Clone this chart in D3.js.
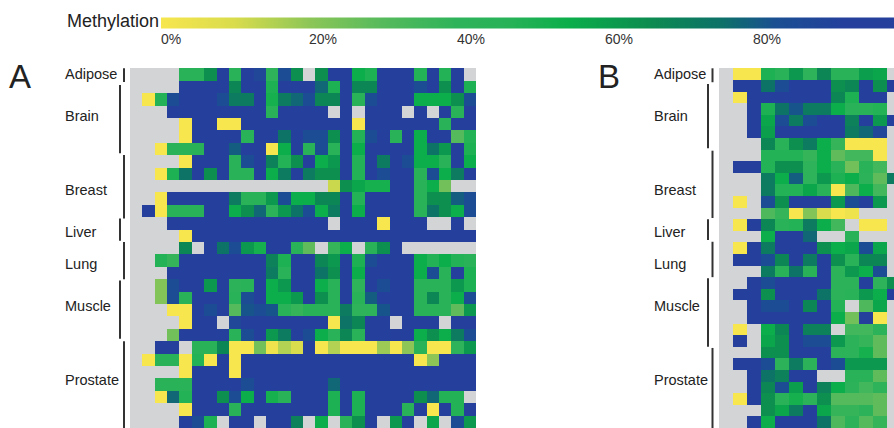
<!DOCTYPE html>
<html>
<head>
<meta charset="utf-8">
<script src="https://cdn.jsdelivr.net/npm/d3@7/dist/d3.min.js"></script>
<style>
  html, body { margin: 0; padding: 0; background: #fff; overflow: hidden; }
  text { font-family: "Liberation Sans", Arial, sans-serif; fill: #222; }
</style>
</head>
<body>
<div id="chart"></div>
<script>
// shorthand for the cells, _ = no data (grey)
const _ = null, Y = 0, B = 95;

const tissues = ["Adipose", "Brain", "Breast", "Liver", "Lung", "Muscle", "Prostate"];
const legendTicks = [0, 20, 40, 60, 80];

// where each tissue bracket starts and stops, in rows of its panel
const tissueRowsA = [[0, 1.1], [1.35, 6.85], [7, 12.1], [12.1, 13.9], [14, 17], [17.1, 21.8], [22, 29]];
const tissueRowsB = [[0, 1.2], [1.35, 6.9], [7.1, 12.9], [13, 14.8], [14.95, 18], [18.1, 24], [24.1, 31]];

const panelA = [
  [_,_,_,_,45,45,65,B,45,B,88,40,85,65,_,65,B,B,55,50,B,B,B,48,B,48,B,_],
  [_,_,_,_,B,B,B,B,68,B,B,50,B,B,B,78,50,B,68,68,B,B,B,85,B,65,B,50],
  [_,Y,48,85,B,B,B,85,72,72,B,52,72,78,85,68,68,B,45,85,B,B,B,55,55,55,65,85],
  [_,_,_,B,B,B,B,B,B,B,B,45,B,B,B,B,_,B,_,B,B,B,_,B,_,B,45,B],
  [_,_,_,_,Y,B,B,Y,Y,B,B,B,B,B,B,B,B,B,Y,B,B,B,B,B,B,45,B,B],
  [_,_,_,_,Y,B,B,B,B,45,B,B,75,B,85,85,65,B,48,85,B,45,B,55,B,B,30,48],
  [_,_,Y,45,45,45,B,B,80,B,B,Y,55,B,45,85,45,B,55,B,B,B,B,55,75,62,B,50],
  [_,_,_,_,Y,B,B,B,45,85,B,70,48,65,B,55,62,B,48,B,72,B,85,55,55,45,B,55],
  [_,_,Y,50,75,B,65,B,45,45,B,55,72,B,72,65,65,B,48,B,85,B,B,45,85,55,72,B],
  [_,_,_,_,_,_,_,_,_,_,_,_,_,_,_,_,12,65,58,52,52,B,B,45,55,25,_,_],
  [_,_,Y,B,B,B,B,B,72,45,45,62,85,55,55,68,68,B,48,B,B,B,B,45,65,65,80,85],
  [_,B,Y,45,45,45,B,B,55,65,78,42,62,75,85,55,72,B,55,B,B,B,B,45,75,65,55,85],
  [_,_,_,B,B,B,B,B,B,B,B,B,B,B,B,B,_,B,B,B,Y,B,B,B,_,_,B,_],
  [_,_,_,_,Y,B,B,B,B,B,B,B,B,B,B,B,B,B,B,B,B,B,B,B,B,B,B,B],
  [_,_,_,_,68,_,B,75,85,62,52,B,B,45,28,_,38,55,_,45,65,B,_,_,_,_,_,_],
  [_,_,48,38,B,B,B,B,B,B,B,70,50,B,B,68,62,B,50,85,B,B,B,55,48,55,48,45],
  [_,_,_,B,B,B,B,B,B,B,B,72,45,B,B,75,65,B,55,B,B,B,B,55,85,45,B,50],
  [_,_,22,85,B,B,62,B,42,45,B,55,62,B,B,55,45,B,40,B,85,B,B,45,45,45,62,50],
  [_,_,22,85,45,B,B,B,45,85,B,55,55,62,B,65,45,B,45,80,B,B,B,45,68,45,55,85],
  [_,_,_,Y,Y,B,85,B,30,82,85,82,45,38,45,45,45,72,40,40,82,B,B,45,45,45,28,62],
  [_,_,_,_,Y,B,B,_,88,B,B,B,B,B,B,B,Y,75,68,B,B,_,B,B,B,_,B,B],
  [_,_,_,25,B,B,B,B,45,85,B,62,72,B,85,55,45,68,45,B,B,B,B,55,65,55,72,85],
  [_,_,B,B,_,45,45,68,Y,Y,25,3,15,10,B,Y,15,Y,Y,Y,18,Y,20,45,Y,Y,40,62],
  [_,Y,45,45,Y,48,Y,B,Y,B,B,B,B,B,B,B,B,B,B,B,B,B,B,Y,20,B,B,B],
  [_,_,_,_,Y,B,B,B,Y,B,B,B,B,B,B,B,B,B,B,B,B,B,B,B,B,B,B,B],
  [_,_,45,45,45,B,B,B,B,85,B,B,B,B,B,B,78,B,B,B,B,B,B,B,B,B,B,B],
  [_,_,Y,78,48,B,B,65,85,55,B,52,45,B,B,B,50,B,50,B,B,B,B,65,78,48,48,_],
  [_,_,_,_,Y,B,B,B,45,B,B,B,B,B,B,B,50,B,50,B,B,B,45,B,Y,B,48,B],
  [_,_,_,_,B,85,50,_,B,B,_,B,B,70,_,55,_,45,65,B,_,62,B,_,58,_,85,62]
];

const panelB = [
  [_,Y,Y,50,45,62,40,68,45,45,60,58,_],
  [_,B,B,75,85,B,B,B,65,68,B,65,B],
  [_,Y,B,B,B,B,B,B,68,50,B,B,_],
  [_,_,B,50,75,82,72,72,55,45,45,48,_],
  [_,_,B,58,85,72,85,B,B,70,B,62,B],
  [_,_,B,60,B,B,B,B,B,72,78,88,_],
  [_,_,_,68,45,65,72,55,38,Y,Y,Y,_],
  [_,_,_,48,48,48,38,55,28,35,35,Y,_],
  [_,B,B,48,65,65,40,55,45,25,45,35,_],
  [_,_,_,72,55,80,40,62,50,55,42,28,72],
  [_,_,_,72,48,48,58,45,Y,32,55,35,_],
  [_,Y,_,85,65,B,B,B,62,85,B,62,_],
  [_,_,_,32,38,Y,22,10,Y,3,_,_,_],
  [_,Y,B,68,45,48,72,55,35,_,Y,Y,_],
  [_,_,_,55,B,B,78,_,_,45,_,_,_],
  [_,Y,B,72,B,B,B,65,55,58,85,58,_],
  [_,B,B,85,68,B,72,B,65,45,68,68,_],
  [_,_,_,72,45,75,45,B,42,62,55,85,_],
  [_,_,B,85,B,B,B,B,42,42,B,40,65],
  [_,B,B,65,B,B,B,75,42,45,62,55,B],
  [_,_,B,85,85,B,68,B,48,_,32,58,_],
  [_,_,B,B,B,B,B,B,55,25,B,Y,_],
  [_,Y,_,55,68,B,70,70,_,35,35,42,_],
  [_,B,_,58,65,B,85,85,62,42,38,28,_],
  [_,_,_,65,65,B,B,B,42,42,52,28,_],
  [_,B,B,85,42,72,42,B,85,62,62,62,_],
  [_,_,B,75,70,B,B,_,_,45,45,28,_],
  [_,_,B,68,85,60,B,70,55,42,35,40,_],
  [_,Y,B,65,45,52,42,65,30,30,30,28,_],
  [_,_,_,65,58,72,B,58,38,38,42,28,_],
  [_,_,B,55,B,B,B,75,32,42,30,38,_]
];

var width = 894, height = 428;
var gridTop = 68.3, gridBottom = 428;
var labelY = [74, 116, 190, 232, 264, 306, 380];

var color = d3.scaleLinear()
    .domain([0, 10, 20, 30, 40, 47, 55, 66, 76, 83, 92])
    .range(["#f7e64e", "#d9dc4c", "#8dc657", "#55ba5c", "#2eb35a", "#28b258", "#0bae4a", "#0c8c50", "#0d7069", "#1a4f92", "#24409c"])
    .clamp(true);

var svg = d3.select("#chart")
  .append("svg")
    .attr("width", width)
    .attr("height", height);

// colour legend
var xLegend = d3.scaleLinear().domain([0, 100]).range([161, 901]);
var defs = svg.append("defs");
var grad = defs.append("linearGradient").attr("id", "legendGrad");
color.domain().forEach(function(v) {
  grad.append("stop")
    .attr("offset", v + "%")
    .attr("stop-color", color(v));
});
grad.append("stop").attr("offset", "100%").attr("stop-color", color(100));

svg.append("rect")
    .attr("x", xLegend(0))
    .attr("y", 17.5)
    .attr("width", xLegend(100) - xLegend(0))
    .attr("height", 11)
    .attr("fill", "url(#legendGrad)");

svg.append("text")
    .attr("x", 159)
    .attr("y", 27)
    .attr("text-anchor", "end")
    .style("font-size", "18px")
    .text("Methylation");

svg.selectAll(".legend-tick")
  .data(legendTicks)
  .enter()
  .append("text")
    .attr("class", "legend-tick")
    .attr("x", function(d) { return xLegend(d); })
    .attr("y", 44)
    .style("font-size", "14px")
    .style("fill", "#333")
    .text(function(d) { return d + "%"; });

function drawPanel(letter, letterX, rows, tissueRows, left, cellW, labelX, barNear, barFar) {
  var nCols = rows[0].length;
  var x = d3.scaleBand().domain(d3.range(nCols)).range([left, left + nCols * cellW]);
  var y = d3.scaleBand().domain(d3.range(rows.length)).range([gridTop, gridBottom]);
  var yEdge = d3.scaleLinear().domain([0, rows.length]).range([gridTop, gridBottom]);

  var g = svg.append("g");

  g.selectAll("g.row")
    .data(rows)
    .enter()
    .append("g")
      .attr("class", "row")
      .attr("transform", function(d, i) { return "translate(0," + y(i) + ")"; })
    .selectAll("rect")
    .data(function(d) { return d; })
    .enter()
    .append("rect")
      .attr("x", function(d, i) { return x(i); })
      .attr("width", x.bandwidth())
      .attr("height", y.bandwidth())
      .attr("shape-rendering", "crispEdges")
      .attr("fill", function(d) { return d === null ? "#d2d4d5" : color(d); });

  // tissue brackets, every other one sits closer to the grid
  g.selectAll("line.bracket")
    .data(tissueRows)
    .enter()
    .append("line")
      .attr("class", "bracket")
      .attr("x1", function(d, i) { return i % 2 ? barFar : barNear; })
      .attr("x2", function(d, i) { return i % 2 ? barFar : barNear; })
      .attr("y1", function(d) { return yEdge(d[0]); })
      .attr("y2", function(d) { return yEdge(d[1]); })
      .attr("stroke", "#333")
      .attr("stroke-width", 2);

  g.selectAll("text.tissue")
    .data(tissues)
    .enter()
    .append("text")
      .attr("class", "tissue")
      .attr("x", labelX)
      .attr("y", function(d, i) { return labelY[i]; })
      .attr("dy", "0.35em")
      .style("font-size", "14.5px")
      .text(function(d) { return d; });

  svg.append("text")
      .attr("x", letterX)
      .attr("y", 88)
      .style("font-size", "33px")
      .text(letter);
}

drawPanel("A", 9, panelA, tissueRowsA, 130, 12.36, 65, 124, 120);
drawPanel("B", 598, panelB, tissueRowsB, 719.3, 13.95, 654, 712.5, 708);
</script>
</body>
</html>
